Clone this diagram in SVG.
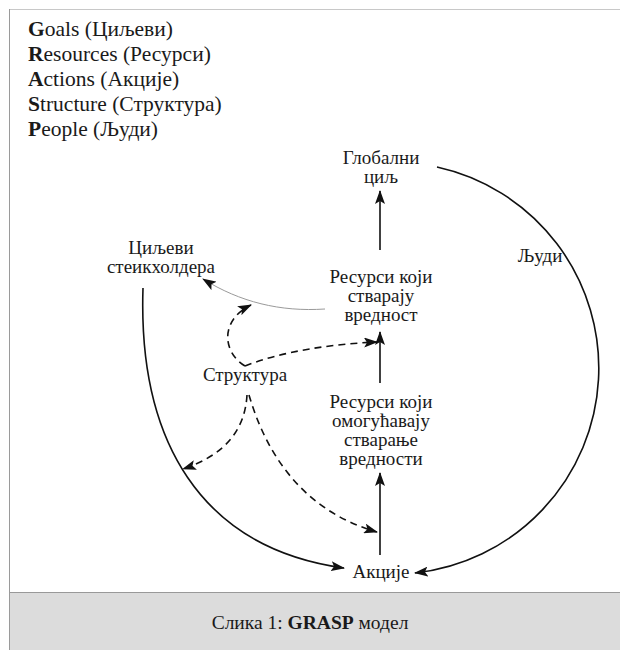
<svg xmlns="http://www.w3.org/2000/svg" width="620" height="650" viewBox="0 0 620 650">
<style>
  text { font-family: "Liberation Serif", "Times New Roman", serif; fill: #1a1a1a; }
  .leg { font-size: 21.5px; }
  .lbl { font-size: 19px; text-anchor: middle; }
  .cap { font-size: 19.5px; text-anchor: middle; }
  .solid { fill: none; stroke: #111; stroke-width: 1.6; }
  .dash { fill: none; stroke: #111; stroke-width: 1.6; stroke-dasharray: 7 5; }
  .thin { fill: none; stroke: #9a9a9a; stroke-width: 1; }
</style>
<defs>
  <marker id="ah" viewBox="0 0 14 10" refX="13" refY="5" markerWidth="14" markerHeight="10" markerUnits="userSpaceOnUse" orient="auto">
    <path d="M0,0 L14,5 L0,10 L3,5 z" fill="#111"/>
  </marker>
</defs>
<rect x="0" y="0" width="620" height="650" fill="#ffffff"/>
<g id="frame">
  <rect x="9.5" y="592" width="611" height="58" fill="#dcdcdc"/>
  <line x1="9.5" y1="9.5" x2="620" y2="9.5" stroke="#c8c8c8" stroke-width="1"/>
  <line x1="9.5" y1="9" x2="9.5" y2="650" stroke="#9a9a9a" stroke-width="1"/>
  <line x1="9.5" y1="592.5" x2="620" y2="592.5" stroke="#999" stroke-width="1.2"/>
</g>
<g id="legend" class="leg">
  <text x="28" y="36"><tspan font-weight="bold">G</tspan>oals (Циљеви)</text>
  <text x="28" y="61"><tspan font-weight="bold">R</tspan>esources (Ресурси)</text>
  <text x="28" y="86"><tspan font-weight="bold">A</tspan>ctions (Акције)</text>
  <text x="28" y="111"><tspan font-weight="bold">S</tspan>tructure (Структура)</text>
  <text x="28" y="136"><tspan font-weight="bold">P</tspan>eople (Људи)</text>
</g>
<g id="connectors">
  <line class="solid" x1="380" y1="250" x2="380" y2="191" marker-end="url(#ah)"/>
  <line class="solid" x1="380" y1="383" x2="380" y2="332" marker-end="url(#ah)"/>
  <line class="solid" x1="380" y1="555" x2="380" y2="473" marker-end="url(#ah)"/>
  <path class="thin" d="M325,309 C 280,312 240,302 203,279" marker-end="url(#ah)"/>
  <path class="solid" d="M143,288 C 138,440 200,548 344,568" marker-end="url(#ah)"/>
  <path class="solid" d="M437,167 A 206 206 0 0 1 415,573" marker-end="url(#ah)"/>
  <path class="dash" d="M245,366 C 280,352 330,344 377,342" marker-end="url(#ah)"/>
  <path class="dash" d="M245,366 C 222,352 220,320 251,305" marker-end="url(#ah)"/>
  <path class="dash" d="M247,395 C 245,430 225,455 183,469" marker-end="url(#ah)"/>
  <path class="dash" d="M249,395 C 265,450 300,510 377,532" marker-end="url(#ah)"/>
</g>
<g id="node-global">
  <text class="lbl" x="381" y="164">Глобални</text>
  <text class="lbl" x="381" y="183">циљ</text>
</g>
<g id="node-stakeholders">
  <text class="lbl" x="161" y="254">Циљеви</text>
  <text class="lbl" x="161" y="273">стеикхолдера</text>
</g>
<g id="node-value">
  <text class="lbl" x="381" y="283">Ресурси који</text>
  <text class="lbl" x="381" y="302">стварају</text>
  <text class="lbl" x="381" y="321">вредност</text>
</g>
<g id="node-structure">
  <text class="lbl" x="245" y="381">Структура</text>
</g>
<g id="node-enabling">
  <text class="lbl" x="381" y="408">Ресурси који</text>
  <text class="lbl" x="381" y="427">омогућавају</text>
  <text class="lbl" x="381" y="446">стварање</text>
  <text class="lbl" x="381" y="465">вредности</text>
</g>
<g id="node-actions">
  <text class="lbl" x="381" y="578">Акције</text>
</g>
<g id="node-people">
  <text class="lbl" x="540" y="262">Људи</text>
</g>
<g id="caption">
  <text class="cap" x="310" y="629">Слика 1: <tspan font-weight="bold">GRASP</tspan> модел</text>
</g>
</svg>
